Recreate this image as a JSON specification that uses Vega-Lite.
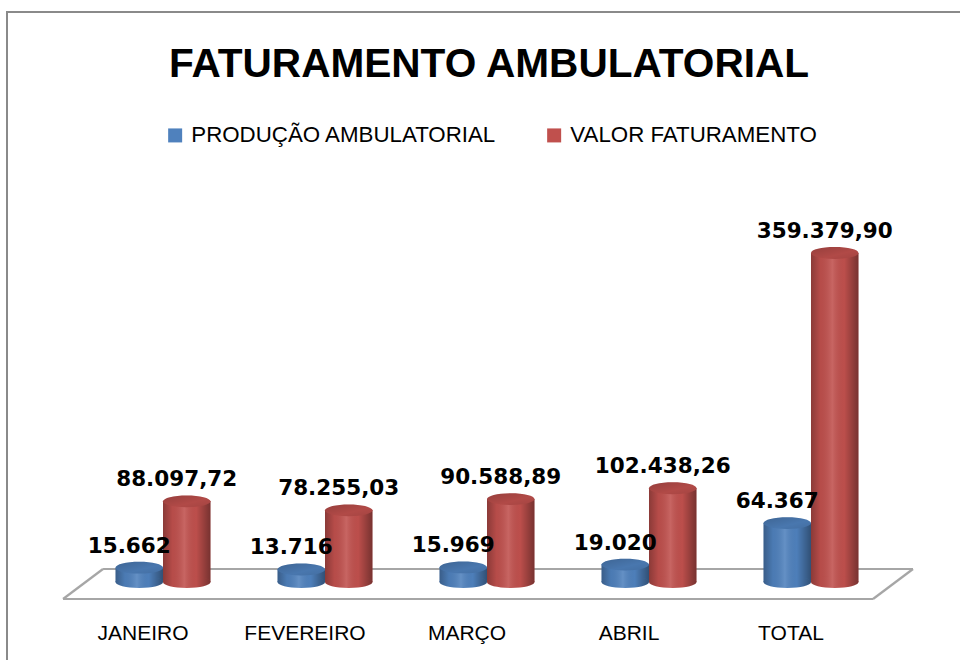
{
  "$schema": "https://vega.github.io/schema/vega-lite/v6.json",
  "width": 960,
  "height": 650,
  "autosize": {"type": "none"},
  "padding": {"left": 7, "top": 12, "right": 0, "bottom": 0},
  "background": "white",
  "config": {
    "view": {"stroke": "#8a8a8a", "strokeWidth": 2}
  },
  "title": {
    "text": "FATURAMENTO AMBULATORIAL",
    "font": "Liberation Sans",
    "fontSize": 40.6,
    "fontWeight": "bold",
    "color": "#000000",
    "anchor": "middle",
    "baseline": "alphabetic",
    "offset": -106,
    "dx": 2
  },
  "data": {
    "values": [
      {"mes": "JANEIRO", "serie": "PRODUÇÃO AMBULATORIAL", "valor": 15662, "rotulo": "15.662"},
      {"mes": "JANEIRO", "serie": "VALOR FATURAMENTO", "valor": 88097.72, "rotulo": "88.097,72"},
      {"mes": "FEVEREIRO", "serie": "PRODUÇÃO AMBULATORIAL", "valor": 13716, "rotulo": "13.716"},
      {"mes": "FEVEREIRO", "serie": "VALOR FATURAMENTO", "valor": 78255.03, "rotulo": "78.255,03"},
      {"mes": "MARÇO", "serie": "PRODUÇÃO AMBULATORIAL", "valor": 15969, "rotulo": "15.969"},
      {"mes": "MARÇO", "serie": "VALOR FATURAMENTO", "valor": 90588.89, "rotulo": "90.588,89"},
      {"mes": "ABRIL", "serie": "PRODUÇÃO AMBULATORIAL", "valor": 19020, "rotulo": "19.020"},
      {"mes": "ABRIL", "serie": "VALOR FATURAMENTO", "valor": 102438.26, "rotulo": "102.438,26"},
      {"mes": "TOTAL", "serie": "PRODUÇÃO AMBULATORIAL", "valor": 64367, "rotulo": "64.367"},
      {"mes": "TOTAL", "serie": "VALOR FATURAMENTO", "valor": 359379.90, "rotulo": "359.379,90"}
    ]
  },
  "encoding": {
    "x": {
      "field": "mes",
      "type": "nominal",
      "scale": {"domain": ["JANEIRO", "FEVEREIRO", "MARÇO", "ABRIL", "TOTAL"], "paddingInner": 0.414, "paddingOuter": 0.67, "align": 0.5},
      "axis": {
        "title": null,
        "domain": false,
        "ticks": false,
        "grid": false,
        "labelAngle": 0,
        "labelFont": "Liberation Sans",
        "labelFontSize": 21,
        "labelColor": "#000000",
        "labelOffset": -20,
        "labelPadding": 7,
        "labelBaseline": "alphabetic",
        "offset": -30
      }
    },
    "xOffset": {"field": "serie", "type": "nominal", "scale": {"paddingInner": 0, "paddingOuter": 0}},
    "y": {"field": "valor", "type": "quantitative", "axis": null, "scale": {"domain": [-87384, 622611], "nice": false, "zero": false}}
  },
  "layer": [
    {
      "transform": [
        {"window": [{"op": "last_value", "field": "mes", "as": "fim"}], "frame": [null, null]},
        {"filter": "datum.mes === 'JANEIRO' && datum.serie === 'PRODUÇÃO AMBULATORIAL'"}
      ],
      "mark": {"type": "rule", "stroke": "#a6a6a6", "strokeWidth": 2.2, "x2Offset": 62},
      "encoding": {
        "xOffset": {"value": -52.5},
        "x2": {"field": "fim"},
        "y": {"datum": -18569, "type": "quantitative"}
      }
    },
    {
      "transform": [
        {"window": [{"op": "last_value", "field": "mes", "as": "fim"}], "frame": [null, null]},
        {"filter": "datum.mes === 'JANEIRO' && datum.serie === 'PRODUÇÃO AMBULATORIAL'"}
      ],
      "mark": {"type": "rule", "stroke": "#a6a6a6", "strokeWidth": 2.2, "x2Offset": 102},
      "encoding": {
        "xOffset": {"value": -12.5},
        "x2": {"field": "fim"},
        "y": {"datum": 14200, "type": "quantitative"}
      }
    },
    {
      "transform": [
        {"filter": "datum.mes === 'JANEIRO' && datum.serie === 'PRODUÇÃO AMBULATORIAL'"}
      ],
      "mark": {"type": "rule", "stroke": "#a6a6a6", "strokeWidth": 2.2, "x2Offset": -60},
      "encoding": {
        "xOffset": {"value": -52.5},
        "x2": {"field": "mes"},
        "y": {"datum": -18569, "type": "quantitative"},
        "y2": {"datum": 14200}
      }
    },
    {
      "transform": [
        {"filter": "datum.mes === 'TOTAL' && datum.serie === 'PRODUÇÃO AMBULATORIAL'"}
      ],
      "mark": {"type": "rule", "stroke": "#a6a6a6", "strokeWidth": 2.2, "x2Offset": 102},
      "encoding": {
        "xOffset": {"value": 109.5},
        "x2": {"field": "mes"},
        "y": {"datum": -18569, "type": "quantitative"},
        "y2": {"datum": 14200}
      }
    },
    {
      "mark": {"type": "bar", "opacity": 1},
      "encoding": {
        "y2": {"datum": 0},
        "color": {
          "field": "serie",
          "type": "nominal",
          "scale": {"domain": ["PRODUÇÃO AMBULATORIAL", "VALOR FATURAMENTO"], "range": ["#4F81BD", "#C0504D"]},
          "legend": {
            "title": null,
            "orient": "none",
            "legendX": 157,
            "legendY": 112,
            "direction": "horizontal",
            "symbolType": "square",
            "symbolSize": 196,
            "symbolStrokeWidth": 0,
            "symbolOpacity": 1,
            "labelFont": "Liberation Sans",
            "labelFontSize": 22.3,
            "labelColor": "#000000",
            "labelOffset": 5,
            "labelLimit": 600,
            "columnPadding": 46
          }
        }
      }
    },
    {
      "mark": {
        "type": "bar",
        "fill": {
          "gradient": "linear", "x1": 0, "x2": 1, "y1": 0, "y2": 0,
          "stops": [
            {"offset": 0, "color": "rgba(0,0,0,0.28)"},
            {"offset": 0.2, "color": "rgba(0,0,0,0.05)"},
            {"offset": 0.45, "color": "rgba(255,255,255,0.12)"},
            {"offset": 0.7, "color": "rgba(0,0,0,0.02)"},
            {"offset": 1, "color": "rgba(0,0,0,0.38)"}
          ]
        }
      },
      "encoding": {"y2": {"datum": 0}}
    },
    {
      "mark": {"type": "point", "filled": true, "opacity": 1, "size": 2256, "shape": "M -1 0 A 1 0.25 0 1 0 1 0 A 1 0.25 0 1 0 -1 0 Z"},
      "encoding": {
        "y": {"datum": 0, "type": "quantitative"},
        "color": {"field": "serie", "type": "nominal"}
      }
    },
    {
      "mark": {
        "type": "point", "filled": true, "opacity": 1, "size": 2256, "strokeWidth": 0,
        "shape": "M -1 0 A 1 0.25 0 1 0 1 0 A 1 0.25 0 1 0 -1 0 Z",
        "fill": {
          "gradient": "linear", "x1": 0, "x2": 1, "y1": 0, "y2": 0,
          "stops": [
            {"offset": 0, "color": "rgba(0,0,0,0.28)"},
            {"offset": 0.2, "color": "rgba(0,0,0,0.05)"},
            {"offset": 0.45, "color": "rgba(255,255,255,0.12)"},
            {"offset": 0.7, "color": "rgba(0,0,0,0.02)"},
            {"offset": 1, "color": "rgba(0,0,0,0.38)"}
          ]
        }
      },
      "encoding": {"y": {"datum": 0, "type": "quantitative"}}
    },
    {
      "mark": {"type": "point", "filled": true, "opacity": 1, "size": 2256, "shape": "M -1 0 A 1 0.25 0 1 0 1 0 A 1 0.25 0 1 0 -1 0 Z"},
      "encoding": {"color": {"field": "serie", "type": "nominal"}}
    },
    {
      "mark": {
        "type": "point", "filled": true, "opacity": 1, "size": 2256, "strokeWidth": 0,
        "shape": "M -1 0 A 1 0.25 0 1 0 1 0 A 1 0.25 0 1 0 -1 0 Z",
        "fill": {
          "gradient": "linear", "x1": 0, "x2": 1, "y1": 0, "y2": 1,
          "stops": [
            {"offset": 0, "color": "rgba(0,0,0,0.22)"},
            {"offset": 0.6, "color": "rgba(0,0,0,0.08)"},
            {"offset": 1, "color": "rgba(0,0,0,0.15)"}
          ]
        }
      }
    },
    {
      "mark": {"type": "text", "font": "DejaVu Sans", "fontSize": 21.5, "fontWeight": "bold", "color": "#000000", "align": "center", "baseline": "alphabetic", "dx": -10, "dy": -15},
      "encoding": {"text": {"field": "rotulo", "type": "nominal"}}
    }
  ]
}
